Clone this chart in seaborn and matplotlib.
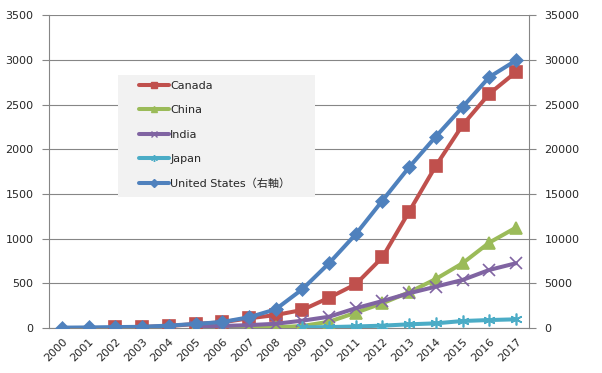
import numpy as np
import pandas as pd
import matplotlib
matplotlib.use('Agg')
import matplotlib.pyplot as plt
from matplotlib.lines import Line2D
from matplotlib.patches import Rectangle
import seaborn as sns

sns.set_style('white')
plt.rcParams['font.family'] = ['DejaVu Sans', 'Noto Sans CJK JP']

nan = np.nan
years = list(range(2000, 2018))
canada = [nan, nan, 5, 10, 20, 43, 62, 106, 143, 200, 337, 488, 790, 1302, 1814, 2270, 2621, 2864]
china = [nan, nan, nan, nan, nan, 1, 2, 3, 5, 20, 68, 169, 275, 398, 547, 723, 954, 1122]
india = [nan, nan, nan, nan, nan, 10, 20, 30, 45, 80, 124, 219, 300, 387, 461, 536, 648, 723]
japan = [nan, nan, nan, nan, nan, nan, nan, nan, nan, 5, 8, 15, 24, 39, 50, 76, 87, 95]
us = [20, 40, 80, 110, 250, 430, 650, 1180, 2070, 4320, 7230, 10480, 14250, 17990, 21420, 24720, 28080, 29940]

left_series = [
    ('Canada', canada, '#C0504D', 's'),
    ('China', china, '#9BBB59', '^'),
    ('India', india, '#8064A2', 'x'),
    ('Japan', japan, '#4BACC6', (6, 2, 0)),
]
us_label = 'United States（右軸）'
us_color = '#4F81BD'

grid_c = '#868686'

fig = plt.figure(figsize=(6.02, 3.73), dpi=100)
ax = fig.add_axes([48.7 / 602, 1 - 327.8 / 373, 480.6 / 602, 312.5 / 373])
ax2 = ax.twinx()

handles = []
for name, vals, color, marker in left_series:
    df = pd.DataFrame({'year': years, 'value': vals})
    sns.lineplot(data=df, x='year', y='value', ax=ax, color=color, lw=2.9,
                 marker=marker, markersize=8.5, mec=color, mfc=color, mew=1.2,
                 zorder=3)
    handles.append(Line2D([], [], color=color, lw=2.9, marker=marker,
                          markersize=5, mec=color, mfc=color, mew=1))

df_us = pd.DataFrame({'year': years, 'value': us})
sns.lineplot(data=df_us, x='year', y='value', ax=ax2, color=us_color, lw=2.9,
             marker='D', markersize=7.5, mec=us_color, mfc=us_color, mew=0.5,
             zorder=3)
handles.append(Line2D([], [], color=us_color, lw=2.9, marker='D',
                      markersize=4, mec=us_color, mfc=us_color))
labels = [s[0] for s in left_series] + [us_label]

ax.set_xlim(1999.5, 2017.5)
ax.set_ylim(0, 3500)
ax2.set_ylim(0, 35000)
ax.set_yticks(range(0, 3501, 500))
ax2.set_yticks(range(0, 35001, 5000))
ax.set_xticks(years)
ax.set_xticks(np.arange(1999.5, 2018, 1), minor=True)
ax.set_xticklabels([str(y) for y in years], rotation=45, ha='right',
                   rotation_mode='anchor')

ax.grid(axis='y', color=grid_c, lw=0.8)
ax.set_axisbelow(True)
for a in (ax, ax2):
    a.set_xlabel('')
    a.set_ylabel('')
    for s in a.spines.values():
        s.set_visible(False)
ax.spines['left'].set_visible(True)
ax.spines['left'].set_color(grid_c)
ax.spines['bottom'].set_visible(True)
ax.spines['bottom'].set_color(grid_c)
ax2.spines['right'].set_visible(True)
ax2.spines['right'].set_color(grid_c)

ax.tick_params(axis='x', which='major', length=0, labelsize=8, pad=6)
ax.tick_params(axis='x', which='minor', length=5, color=grid_c, width=0.8)
ax.tick_params(axis='y', length=5, color=grid_c, width=0.8, labelsize=8, pad=6, left=True)
ax2.tick_params(axis='y', length=5, color=grid_c, width=0.8, labelsize=8, pad=6, right=True)

# legend background panel
ax2.add_patch(Rectangle((0.1442, 0.4186), 0.41, 0.3904, transform=ax2.transAxes,
                        facecolor='#f2f2f2', edgecolor='none', zorder=4))
leg = ax2.legend(handles, labels, loc='upper left',
                 bbox_to_anchor=(0.188, 0.790), borderaxespad=0,
                 frameon=False, fontsize=8, borderpad=0,
                 handlelength=2.7, handletextpad=0.1, labelspacing=1.29)
leg.set_zorder(5)

plt.savefig('out.png', dpi=100)
